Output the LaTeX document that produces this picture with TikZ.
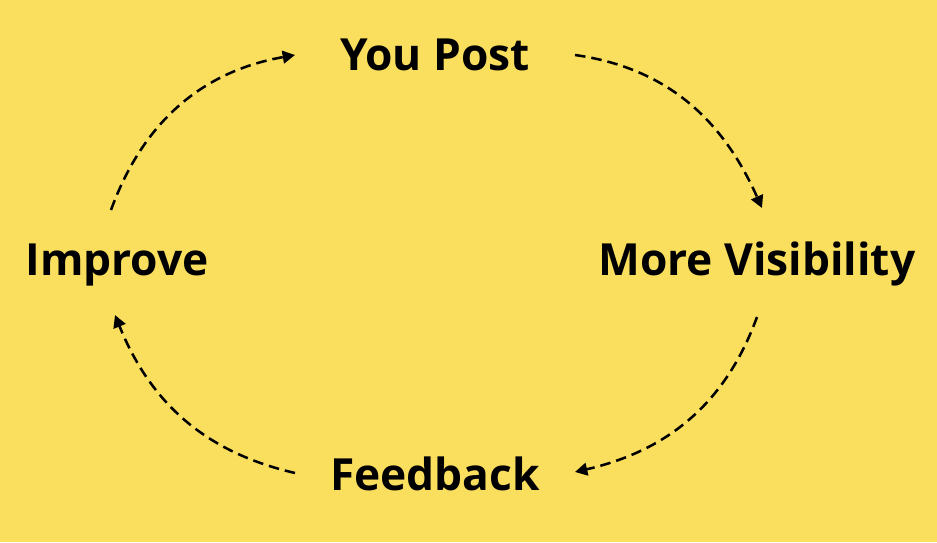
\documentclass[tikz,border=0pt]{standalone}
\usepackage{fontspec}
\setmainfont{Open Sans}
\usetikzlibrary{arrows.meta}
\definecolor{bgyellow}{RGB}{250,222,94}

\begin{document}
\begin{tikzpicture}[
        step label/.style={anchor=base, inner sep=0pt, font=\bfseries\fontsize{12.6}{15}\selectfont},
        loop arrow/.style={-{Triangle[length=3.5pt,width=3.6pt]}, line width=0.72pt, dash pattern=on 3pt off 1.7pt}
    ]
        \fill[bgyellow] (0,0) rectangle (9.37,5.42);
        \useasboundingbox (0,0) rectangle (9.37,5.42);

        \node[step label] (post) at (4.35,4.72) {You Post};
        \node[step label] (more) at (7.57,2.67) {More Visibility};
        \node[step label] (feedback) at (4.35,0.52) {Feedback};
        \node[step label] (improve) at (1.17,2.66) {Improve};

        \draw[loop arrow] ([shift={(-0.06,0.66)}]improve.base) to[out=70, in=190] ([shift={(-1.40,0.15)}]post.base);
        \draw[loop arrow] ([shift={(1.40,0.15)}]post.base) to[out=-8, in=114] ([shift={(0.05,0.67)}]more.base);
        \draw[loop arrow] ([shift={(0,-0.42)}]more.base) to[out=-110, in=13] ([shift={(1.40,0.18)}]feedback.base);
        \draw[loop arrow] ([shift={(-1.40,0.17)}]feedback.base) to[out=167, in=-68] ([shift={(-0.02,-0.39)}]improve.base);
    \end{tikzpicture}
\end{document}
